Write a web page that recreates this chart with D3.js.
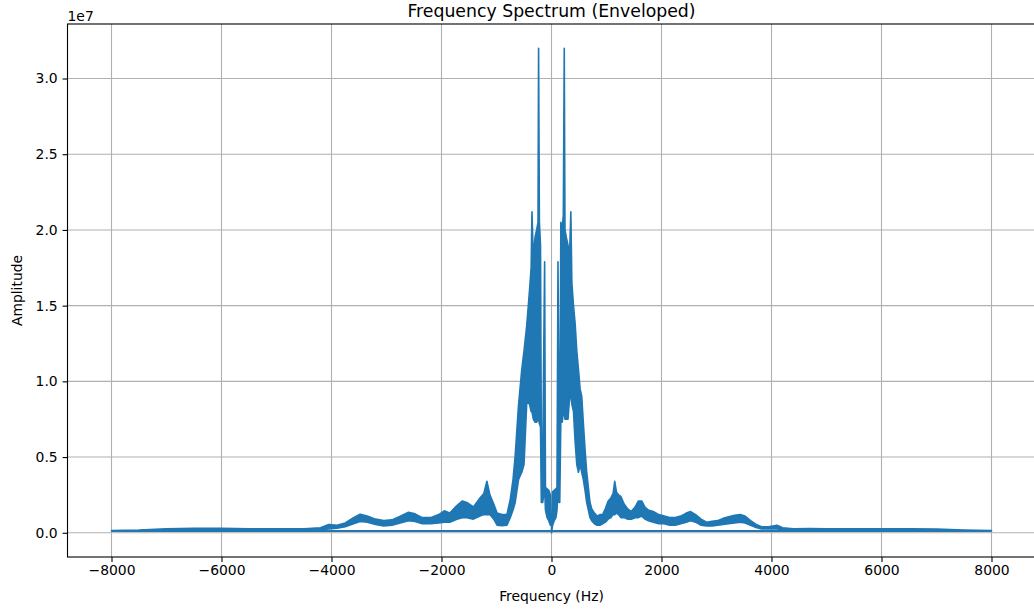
<!DOCTYPE html>
<html>
<head>
<meta charset="utf-8">
<script src="https://cdn.jsdelivr.net/npm/d3@7"></script>
<style>
  body { margin: 0; background: #fff; }
  text { font-family: "DejaVu Sans", sans-serif; fill: #000; }
</style>
</head>
<body>
<div id="chart"></div>
<script>
// amplitudes are in units of 1e7 (the axis offset text)
// positive half of the spectrum, 0 .. 8000 Hz
var posFreq = [0, 20, 50, 80, 100, 118, 135, 150, 170, 195,
    215, 232, 245, 270, 300, 330, 352, 370, 400, 430,
    460, 490, 520, 550, 580, 610, 640, 670, 700, 730,
    780, 830, 880, 930, 980, 1030, 1080, 1120, 1150, 1180,
    1220, 1260, 1320, 1380, 1450, 1520, 1580, 1640, 1700, 1760,
    1850, 1950, 2050, 2150, 2250, 2350, 2450, 2530, 2620, 2720,
    2820, 2920, 3020, 3120, 3220, 3330, 3430, 3520, 3620, 3720,
    3820, 3950, 4100, 4200, 4400, 4700, 5000, 5500, 6000, 6500,
    7000, 7500, 8000];
var posHigh = [0.05, 0.27, 0.28, 0.29, 0.3, 1.79, 0.9, 0.5, 2.05, 2.0,
    2.1, 3.2, 2.0, 1.95, 1.9, 1.85, 2.12, 1.65, 1.5, 1.38,
    1.2, 1.08, 0.95, 0.9, 0.72, 0.55, 0.4, 0.3, 0.2, 0.16,
    0.13, 0.11, 0.12, 0.12, 0.16, 0.21, 0.23, 0.26, 0.34, 0.27,
    0.25, 0.24, 0.19, 0.16, 0.14, 0.17, 0.21, 0.21, 0.17, 0.15,
    0.14, 0.12, 0.11, 0.1, 0.1, 0.11, 0.13, 0.14, 0.12, 0.09,
    0.07, 0.075, 0.08, 0.095, 0.105, 0.115, 0.12, 0.11, 0.08, 0.055,
    0.04, 0.04, 0.05, 0.033, 0.027, 0.028, 0.027, 0.027, 0.027, 0.027,
    0.025, 0.018, 0.014];
var posLow = [0.0, 0.05, 0.08, 0.1, 0.15, 0.3, 0.2, 0.2, 0.75, 0.73,
    0.8, 0.8, 0.75, 0.75, 0.75, 0.9, 0.9, 0.85, 0.8, 0.6,
    0.45, 0.4, 0.45, 0.4, 0.35, 0.28, 0.2, 0.15, 0.1, 0.08,
    0.06, 0.05, 0.05, 0.06, 0.07, 0.09, 0.1, 0.12, 0.12, 0.13,
    0.12, 0.1, 0.1, 0.09, 0.09, 0.1, 0.1, 0.11, 0.09, 0.08,
    0.07, 0.06, 0.06, 0.05, 0.05, 0.06, 0.07, 0.08, 0.07, 0.05,
    0.045, 0.045, 0.05, 0.055, 0.06, 0.065, 0.07, 0.065, 0.05, 0.035,
    0.025, 0.025, 0.025, 0.02, 0.017, 0.017, 0.017, 0.016, 0.016, 0.016,
    0.015, 0.013, 0.012];

// negative half, -8000 .. -20 Hz (comes after the positive half, like fftfreq)
var negFreq = [-8000, -7500, -7000, -6500, -6000, -5500, -5000, -4500, -4200, -4050,
    -3900, -3750, -3600, -3480, -3350, -3200, -3050, -2900, -2750, -2600,
    -2480, -2350, -2200, -2050, -1950, -1850, -1720, -1620, -1540, -1420,
    -1300, -1230, -1175, -1120, -1050, -990, -900, -810, -750, -700,
    -660, -600, -540, -500, -450, -400, -370, -355, -330, -300,
    -270, -245, -235, -220, -200, -185, -160, -125, -110, -80,
    -50, -20];
var negHigh = [0.014, 0.018, 0.027, 0.03, 0.029, 0.027, 0.027, 0.027, 0.033, 0.055,
    0.05, 0.065, 0.1, 0.123, 0.11, 0.09, 0.08, 0.085, 0.11, 0.135,
    0.125, 0.1, 0.1, 0.12, 0.145, 0.13, 0.18, 0.21, 0.2, 0.17,
    0.23, 0.26, 0.34, 0.25, 0.19, 0.13, 0.12, 0.12, 0.22, 0.35,
    0.51, 0.84, 1.08, 1.2, 1.37, 1.6, 1.75, 2.12, 1.8, 1.95,
    2.0, 2.05, 3.2, 2.05, 1.9, 0.6, 0.5, 1.79, 0.3, 0.29,
    0.28, 0.25];
var negLow = [0.012, 0.013, 0.015, 0.016, 0.016, 0.016, 0.016, 0.016, 0.02, 0.025,
    0.03, 0.04, 0.06, 0.075, 0.07, 0.055, 0.045, 0.05, 0.065, 0.08,
    0.075, 0.06, 0.06, 0.065, 0.07, 0.07, 0.09, 0.1, 0.1, 0.09,
    0.11, 0.12, 0.12, 0.12, 0.09, 0.05, 0.046, 0.05, 0.1, 0.15,
    0.2, 0.35, 0.4, 0.45, 0.86, 0.85, 0.8, 0.8, 0.75, 0.73,
    0.73, 0.75, 0.75, 0.72, 0.7, 0.2, 0.2, 0.3, 0.15, 0.1,
    0.08, 0.05];

var xTicks = [-8000, -6000, -4000, -2000, 0, 2000, 4000, 6000, 8000];
var yTicks = [0.0, 0.5, 1.0, 1.5, 2.0, 2.5, 3.0];

document.addEventListener("DOMContentLoaded", function() {
    var svgWidth = 1034, svgHeight = 611;
    var plot = { left: 67.5, right: 1035.5, top: 24, bottom: 557 };
    var lineColor = "#1f77b4";

    var svg = d3.select("#chart").append("svg")
        .attr("width", svgWidth)
        .attr("height", svgHeight);

    var x = d3.scaleLinear().domain([-8800, 8800]).range([plot.left, plot.right]);
    var y = d3.scaleLinear().domain([-0.16, 3.36]).range([plot.bottom, plot.top]);

    svg.append("defs").append("clipPath")
        .attr("id", "plot-clip")
        .append("rect")
        .attr("x", plot.left)
        .attr("y", plot.top)
        .attr("width", plot.right - plot.left)
        .attr("height", plot.bottom - plot.top);

    // grid
    var grid = svg.append("g").attr("class", "grid");
    grid.selectAll(".vgrid").data(xTicks).enter().append("line")
        .attr("x1", function(d) { return x(d); })
        .attr("x2", function(d) { return x(d); })
        .attr("y1", plot.top)
        .attr("y2", plot.bottom)
        .style("stroke", "#b0b0b0")
        .style("stroke-width", 1.1);
    grid.selectAll(".hgrid").data(yTicks).enter().append("line")
        .attr("x1", plot.left)
        .attr("x2", plot.right)
        .attr("y1", function(d) { return y(d); })
        .attr("y2", function(d) { return y(d); })
        .style("stroke", "#b0b0b0")
        .style("stroke-width", 1.1);

    // spectrum: noisy band between low and high envelope
    function halfPoints(freq, high, low) {
        return freq.map(function(f, i) { return { f: f, hi: high[i], lo: low[i] }; });
    }
    var posPts = halfPoints(posFreq, posHigh, posLow);
    var negPts = halfPoints(negFreq, negHigh, negLow);

    var band = d3.area()
        .x(function(d) { return x(d.f); })
        .y0(function(d) { return y(d.lo); })
        .y1(function(d) { return y(d.hi); });

    var dataLayer = svg.append("g").attr("clip-path", "url(#plot-clip)");

    [posPts, negPts].forEach(function(pts) {
        dataLayer.append("path")
            .datum(pts)
            .attr("d", band)
            .style("fill", lineColor)
            .style("stroke", lineColor)
            .style("stroke-width", 1.6)
            .style("stroke-linejoin", "round");
    });

    // jump from the last positive bin back to the first negative bin
    var wrap = [posPts[posPts.length - 1], negPts[0]];
    dataLayer.append("path")
        .datum(wrap)
        .attr("d", d3.line()
            .x(function(d) { return x(d.f); })
            .y(function(d) { return y(d.lo); }))
        .style("fill", "none")
        .style("stroke", lineColor)
        .style("stroke-width", 2);

    // axes
    var fontSize = "13.9px";
    var xAxis = svg.append("g")
        .attr("transform", "translate(0," + plot.bottom + ")")
        .call(d3.axisBottom(x).tickValues(xTicks).tickSize(4.9).tickPadding(3.5).tickFormat(d3.format("d")));
    var yAxis = svg.append("g")
        .attr("transform", "translate(" + plot.left + ",0)")
        .call(d3.axisLeft(y).tickValues(yTicks).tickSize(4.9).tickPadding(4.9).tickFormat(d3.format(".1f")));

    [xAxis, yAxis].forEach(function(ax) {
        ax.select(".domain").remove();
        ax.selectAll(".tick line").style("stroke", "#000").style("stroke-width", 1.1);
        ax.selectAll(".tick text")
            .style("font-size", fontSize)
            .style("font-family", "'DejaVu Sans', sans-serif")
            .style("fill", "#000");
    });

    // spines
    svg.append("rect")
        .attr("x", plot.left)
        .attr("y", plot.top)
        .attr("width", plot.right - plot.left)
        .attr("height", plot.bottom - plot.top)
        .style("fill", "none")
        .style("stroke", "#000")
        .style("stroke-width", 1.1);

    // labels
    svg.append("text")
        .attr("x", (plot.left + plot.right) / 2)
        .attr("y", 17)
        .attr("text-anchor", "middle")
        .style("font-size", "17.3px")
        .text("Frequency Spectrum (Enveloped)");

    svg.append("text")
        .attr("x", plot.left)
        .attr("y", 20.5)
        .style("font-size", fontSize)
        .text("1e7");

    svg.append("text")
        .attr("x", (plot.left + plot.right) / 2)
        .attr("y", 601)
        .attr("text-anchor", "middle")
        .style("font-size", fontSize)
        .text("Frequency (Hz)");

    svg.append("text")
        .attr("transform", "translate(22," + (plot.top + plot.bottom) / 2 + ") rotate(-90)")
        .attr("text-anchor", "middle")
        .style("font-size", fontSize)
        .text("Amplitude");
});
</script>
</body>
</html>
